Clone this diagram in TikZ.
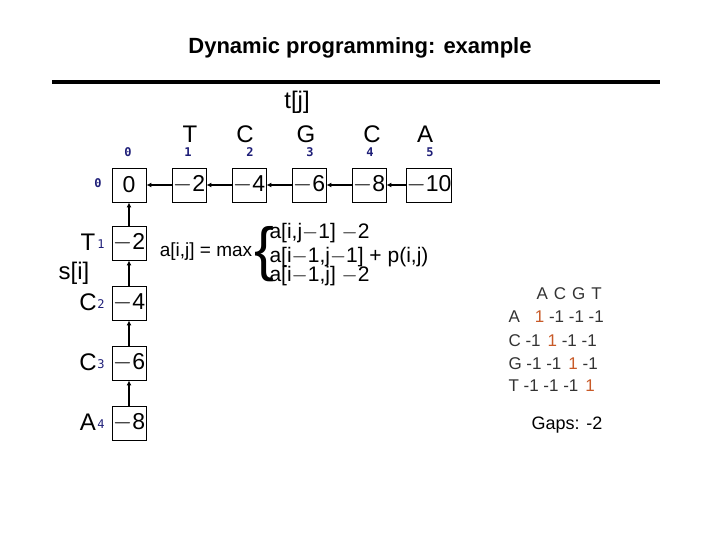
\documentclass[tikz,border=0pt]{standalone}
\usepackage{fontspec}
\setmainfont{Liberation Sans}
\newfontfamily\idxf{DejaVu Sans Mono}
\definecolor{idx}{RGB}{30,30,120}
\definecolor{rd}{RGB}{200,90,40}
\usetikzlibrary{arrows.meta}
\begin{document}
\begin{tikzpicture}[x=1pt,y=-1pt,
 cell/.style={draw,line width=0.9pt,minimum width=34pt,minimum height=34pt,inner sep=0pt,font=\fontsize{23}{23}\selectfont},
 num/.style={text=idx,font=\idxf\bfseries\fontsize{12}{12}\selectfont},
 lab/.style={font=\fontsize{24}{24}\selectfont},
 ar/.style={line width=1.6pt,-{Latex[length=5pt,width=5pt]}},
 mt/.style={font=\fontsize{17}{17}\selectfont,anchor=west,text=black!80},
 fm/.style={font=\fontsize{21}{21}\selectfont,anchor=west}]
\useasboundingbox (0,0) rectangle (720,540);
\node[font=\bfseries\fontsize{22}{22}\selectfont] (title) at (360,48) {Dynamic programming: example};
\draw[line width=4pt] (52,82) -- (660,82);
\node[lab] (tj) at (297,102) {t[j]};
\foreach \l/\x [count=\i] in {T/190,C/245,G/306,C/372,A/425}{\node[lab] (L\i) at (\x,134) {\l};}
\foreach \v/\x [count=\i from 0] in {0/128,1/188,2/250,3/310,4/370,5/430}{\node[num] (n\i) at (\x,152) {\v};}
\foreach \v/\x [count=\i from 0] in {0/129,$-$2/189,$-$4/249,$-$6/309,$-$8/369,$-$10/429}{\node[cell] (c\i) at (\x,185) {\v};}
\foreach \i [evaluate=\i as \j using int(\i-1)] in {1,...,5}{\draw[ar] (c\i.west) -- (c\j.east);}
\node[num] (r0) at (98,183) {0};
\foreach \v/\y [count=\i] in {$-$2/243,$-$4/303,$-$6/363,$-$8/423}{\node[cell] (v\i) at (129,\y) {\v};}
\draw[ar] (v1.north) -- (c0.south);
\draw[ar] (v2.north) -- (v1.south);
\draw[ar] (v3.north) -- (v2.south);
\draw[ar] (v4.north) -- (v3.south);
\foreach \l/\y [count=\i] in {T/242,C/302,C/362,A/422}{
 \node[lab] (s\i) at (88,\y) {\l};
 \node[text=idx,font=\idxf\fontsize{12}{12}\selectfont] (sn\i) at (101,\y+2) {\i};}
\node[lab] (si) at (74,273) {s[i]};
\node[font=\fontsize{19}{19}\selectfont] (eq) at (206,252) {a[i,j] = max};
\node[font=\fontsize{66}{66}\selectfont,scale=0.9] (br) at (264,254) {\{};
\node[fm] (e1) at (266,233) {a[i,j$-$1] $-$2};
\node[fm] (e2) at (266,257) {a[i$-$1,j$-$1] + p(i,j)};
\node[fm] (e3) at (266,276) {a[i$-$1,j] $-$2};
\node[mt] (m0) at (533,294) {A\hspace{6pt}C\hspace{6pt}G\hspace{6pt}T};
\node[mt] (m1) at (505,317) {A\hspace{15pt}\textcolor{rd}{1} -1 -1 -1};
\node[mt] (m2) at (505,341) {C -1\hspace{7pt}\textcolor{rd}{1} -1 -1};
\node[mt] (m3) at (505,364) {G -1 -1\hspace{7pt}\textcolor{rd}{1} -1};
\node[mt] (m4) at (505,386) {T -1 -1 -1\hspace{7pt}\textcolor{rd}{1}};
\node[font=\fontsize{18}{18}\selectfont] (gap) at (567,425) {Gaps: -2};
\end{tikzpicture}
\end{document}
